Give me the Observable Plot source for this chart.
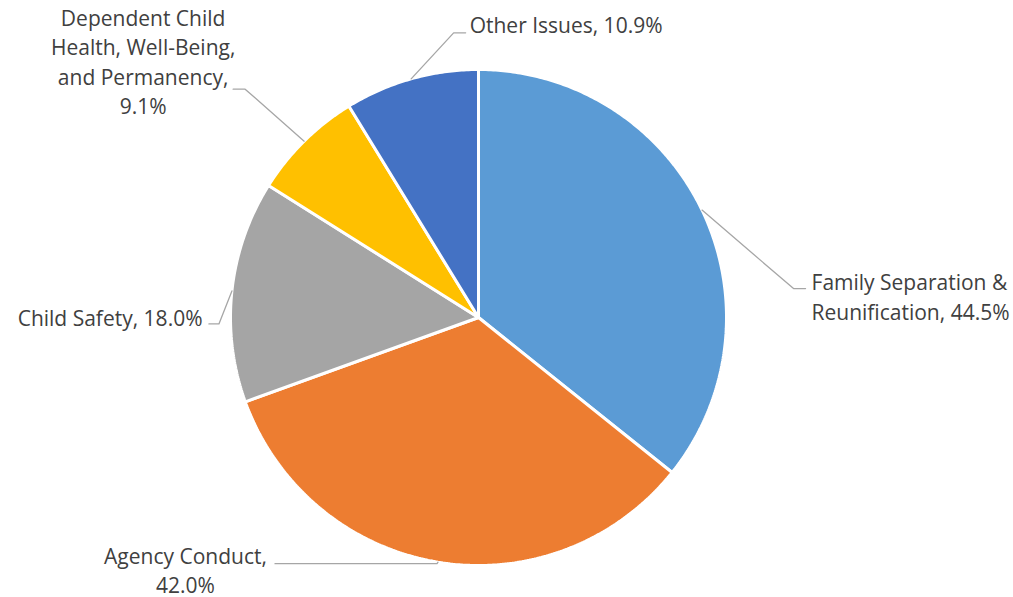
<!DOCTYPE html>
<html>
<head>
<meta charset="utf-8">
<script src="https://cdn.jsdelivr.net/npm/d3@7"></script>
<script src="https://cdn.jsdelivr.net/npm/@observablehq/plot@0.6"></script>
<style>
  html, body { margin: 0; padding: 0; background: #fff; }
  #chart { width: 1013px; height: 597px; }
</style>
</head>
<body>
<div id="chart"></div>
<script>
// ---- data ----
const categories = [
  "Family Separation & Reunification",
  "Agency Conduct",
  "Child Safety",
  "Dependent Child Health, Well-Being, and Permanency",
  "Other Issues"
];
const values = [44.5, 42.0, 18.0, 9.1, 10.9];
const labelTexts = [
  "Family Separation &\nReunification, 44.5%",
  "Agency Conduct,\n42.0%",
  "Child Safety, 18.0%",
  "Dependent Child\nHealth, Well-Being,\nand Permanency,\n9.1%",
  "Other Issues, 10.9%"
];
const colors = ["#5B9BD5", "#ED7D31", "#A5A5A5", "#FFC000", "#4472C4"];

// ---- layout (pixels) ----
const W = 1013, H = 597, R = 248, CX = 478, CY = 317;
// per label: elbow offset from slice edge, horizontal tail, text offset from edge, anchor
const labelLayout = [
  {elbow: [91.5, 78.5], tail: 12,   text: [109.5, 85.5], anchor: "start"},
  {elbow: [-1, 1.5],    tail: -162, text: [-252.5, 7],   anchor: "middle"},
  {elbow: [-13, 33],    tail: -10,  text: [-29.4, 26],   anchor: "end"},
  {elbow: [-59, -52],   tail: -12,  text: [-161, -80.5], anchor: "middle"},
  {elbow: [42.5, -46],  tail: 12,   text: [58.5, -55],   anchor: "start"}
];

const arcs = d3.pie().sort(null).value(d => d)(values);

// slice polygons in unit-radius coordinates (y up), angle clockwise from top
const slicePts = [];
arcs.forEach((a, i) => {
  const name = categories[i];
  slicePts.push({name, x: 0, y: 0});
  const n = Math.max(8, Math.ceil((a.endAngle - a.startAngle) / 0.01));
  for (let k = 0; k <= n; k++) {
    const t = a.startAngle + (a.endAngle - a.startAngle) * k / n;
    slicePts.push({name, x: Math.sin(t), y: Math.cos(t)});
  }
  slicePts.push({name, x: 0, y: 0});
});

// leader lines
const leaderPts = [];
const edges = arcs.map((a, i) => {
  const m = (a.startAngle + a.endAngle) / 2;
  return {x: Math.sin(m), y: Math.cos(m)};
});
edges.forEach((e, i) => {
  const L = labelLayout[i];
  const name = categories[i];
  const ex = e.x + L.elbow[0] / R, ey = e.y - L.elbow[1] / R;
  leaderPts.push({name, x: e.x, y: e.y});
  leaderPts.push({name, x: ex, y: ey});
  leaderPts.push({name, x: ex + L.tail / R, y: ey});
});

const font = "'Open Sans', Lato, sans-serif";
const fontSize = 21;
const lineHeight = 1.4;

const textMarks = edges.map((e, i) => {
  const L = labelLayout[i];
  return Plot.text([{x: e.x, y: e.y, t: labelTexts[i]}], {
    x: "x", y: "y", text: "t",
    dx: L.text[0], dy: L.text[1],
    textAnchor: L.anchor, lineAnchor: "middle",
    lineHeight, fontSize, fontFamily: font, fill: "#404040"
  });
});

const chart = Plot.plot({
  width: W, height: H,
  margin: 0,
  style: {background: "#fff", fontFamily: font},
  x: {domain: [-CX / R, (W - CX) / R], range: [0, W], axis: null},
  y: {domain: [-(H - CY) / R, CY / R], range: [H, 0], axis: null},
  color: {domain: categories, range: colors},
  marks: [
    Plot.line(slicePts, {x: "x", y: "y", z: "name", fill: "name", stroke: "white", strokeWidth: 3, strokeLinejoin: "miter", curve: "linear"}),
    Plot.line(leaderPts, {x: "x", y: "y", z: "name", stroke: "#A6A6A6", strokeWidth: 1.3, curve: "linear"}),
    ...textMarks
  ]
});
document.getElementById("chart").appendChild(chart);
</script>
</body>
</html>
